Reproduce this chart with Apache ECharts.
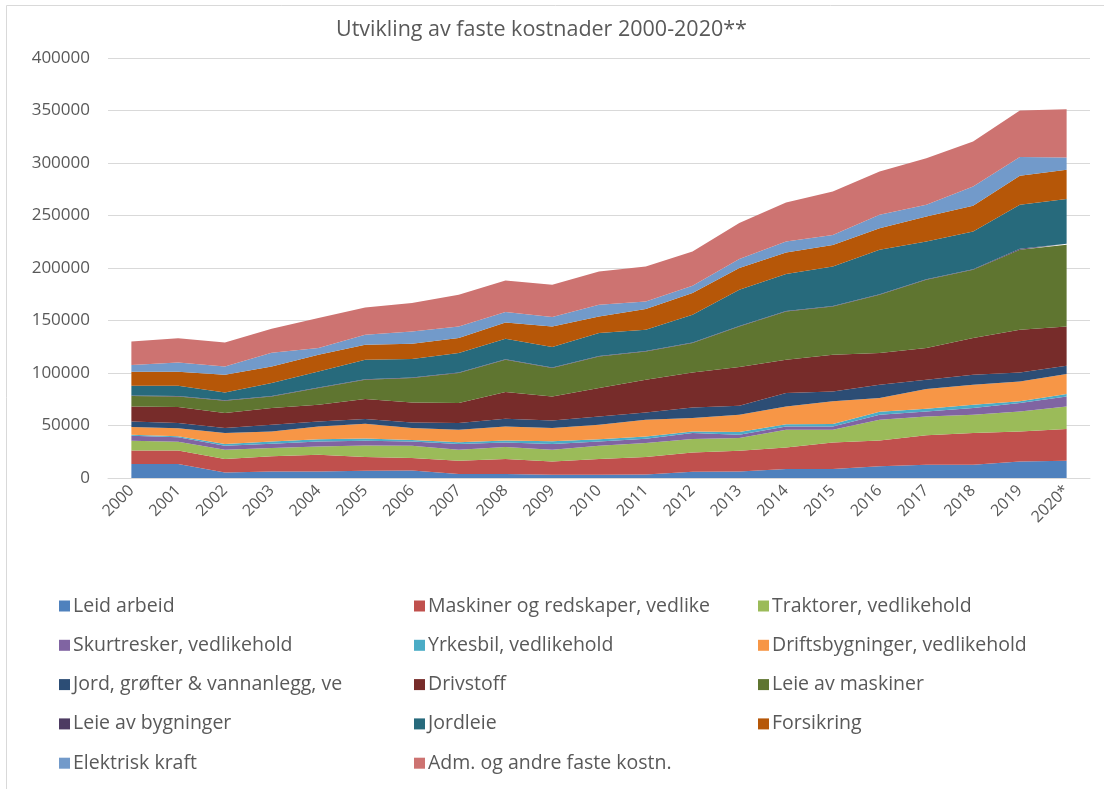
<!DOCTYPE html>
<html>
<head>
<meta charset="utf-8">
<script src="https://cdn.jsdelivr.net/npm/echarts@6/dist/echarts.min.js"></script>
<style>
html, body { margin: 0; padding: 0; background: #fff; }
#chart { width: 1104px; height: 789px; }
</style>
</head>
<body>
<div id="chart"></div>
<script>
// år (2020 er foreløpig)
const years = ['2000','2001','2002','2003','2004','2005','2006','2007','2008','2009','2010',
  '2011','2012','2013','2014','2015','2016','2017','2018','2019','2020*'];
const yTicks = [0, 50000, 100000, 150000, 200000, 250000, 300000, 350000, 400000];

// kostnader per post, lest av figuren
const leidArbeid = [13300,13300,5300,6300,6300,6900,7200,3800,3800,3200,3100,3400,6000,6300,8600,8600,11100,12700,12700,15800,16500];
const maskiner = [13000,13000,12800,14300,15900,13100,11800,12700,14300,12600,15000,16600,18400,19700,20500,25300,24700,27900,30100,28600,30100];
const traktorer = [9200,8300,8900,8000,7900,11000,11700,10500,11400,11200,12600,13300,12700,12100,16900,12100,19700,18000,17500,19000,21600];
const skurtresker = [4800,4100,3800,4100,4700,4500,4100,5400,4400,5400,4100,4100,5700,3100,3100,3100,4800,4800,6300,8000,9500];
const yrkesbil = [1000,1000,1600,2100,2000,2200,1500,1600,1900,2600,2200,2100,1600,2500,2200,2400,2700,2600,3100,1600,2300];
const driftsbygn = [7200,7600,10400,9600,12300,14000,11300,12000,13300,12600,13800,16000,12700,16600,16900,21500,13100,18700,19100,19000,19000];
const jordGrofter = [5400,5100,4800,6400,4800,4500,5300,6400,7400,7200,7800,7000,10100,8500,12700,9500,12700,8900,9500,8500,7900];
const drivstoff = [14300,15200,14300,15800,15900,19000,19100,19000,25400,22900,27100,31100,33300,36900,31700,34900,30200,30200,35000,40700,37400];
const leieMaskiner = [9800,10100,11700,11100,15900,18400,23200,28600,30700,27000,30100,26900,28000,38600,46000,45900,55500,65000,65000,76100,77800];
const leieBygninger = [500,500,500,500,500,500,500,500,500,500,500,500,500,500,500,500,500,500,500,1000,1000];
const jordleie = [9400,9700,7400,12200,15300,18500,17600,18500,19500,19500,21700,20200,26400,34500,35100,37600,42300,35900,35900,41900,42500];
const forsikring = [13300,13300,16800,15800,15900,14300,14500,14300,15500,19600,15800,19700,20700,20700,20600,20600,20600,23800,24500,27600,27900];
const elKraft = [6400,8900,7900,13000,6400,9500,11800,11000,9900,9000,11200,7200,7000,8500,10400,9500,12700,11200,18500,17800,11700];
const admAndre = [22400,22900,22900,23000,28500,26000,27000,30200,30100,30700,31700,33300,32600,34300,37200,41400,41300,44400,42800,44400,46100];

const names = ['Leid arbeid','Maskiner og redskaper, vedlike','Traktorer, vedlikehold','Skurtresker, vedlikehold',
  'Yrkesbil, vedlikehold','Driftsbygninger, vedlikehold','Jord, grøfter & vannanlegg, ve','Drivstoff',
  'Leie av maskiner','Leie av bygninger','Jordleie','Forsikring','Elektrisk kraft','Adm. og andre faste kostn.'];
const values = [leidArbeid, maskiner, traktorer, skurtresker, yrkesbil, driftsbygn, jordGrofter, drivstoff,
  leieMaskiner, leieBygninger, jordleie, forsikring, elKraft, admAndre];
const colors = ['#4F81BD','#C0504D','#9BBB59','#8064A2','#4BACC6','#F79646','#2C4D75','#772C2A',
  '#5F7530','#4D3B62','#276A7C','#B65708','#729ACA','#CD7371'];

const txt = '#595959';
const font = 'Open Sans';

let seriesData = [];
for (let i = 0; i < names.length; i++) {
  seriesData.push({
    name: names[i],
    type: 'line',
    stack: 'total',
    symbol: 'none',
    lineStyle: { width: 0 },
    areaStyle: { color: colors[i], opacity: 1 },
    itemStyle: { color: colors[i] },
    data: values[i]
  });
}

// legenden i tre kolonner
function legendCol(idx, left) {
  return {
    orient: 'vertical',
    left: left,
    top: 591,
    itemWidth: 11,
    itemHeight: 11,
    itemGap: 19.3,
    icon: 'rect',
    data: idx.map(i => names[i]),
    textStyle: { color: txt, fontSize: 19.5, fontFamily: font, padding: [0, 0, 0, -2] }
  };
}

let myChart = echarts.init(document.getElementById('chart'));
myChart.setOption({
  animation: false,
  color: colors,
  title: {
    text: 'Utvikling av faste kostnader 2000-2020**',
    left: 331,
    top: 14,
    textStyle: { color: txt, fontSize: 21.5, fontWeight: 'normal', fontFamily: font }
  },
  graphic: [{
    type: 'rect',
    shape: { x: 6.5, y: 5.5, width: 1120, height: 820 },
    style: { fill: 'none', stroke: '#d9d9d9', lineWidth: 1 }
  }],
  legend: [
    legendCol([0, 3, 6, 9, 12], 54),
    legendCol([1, 4, 7, 10, 13], 409),
    legendCol([2, 5, 8, 11], 753)
  ],
  grid: { left: 108, right: 14, top: 58, bottom: 311 },
  xAxis: {
    type: 'category',
    boundaryGap: true,
    data: years,
    axisLine: { lineStyle: { color: '#d9d9d9' } },
    axisTick: { show: false },
    axisLabel: { rotate: 45, color: txt, fontSize: 16, fontFamily: font, margin: 10, interval: 0 }
  },
  yAxis: {
    type: 'value',
    min: yTicks[0],
    max: yTicks[yTicks.length - 1],
    interval: 50000,
    axisLine: { show: false },
    axisTick: { show: false },
    axisLabel: { color: txt, fontSize: 17, fontFamily: font, margin: 18, formatter: v => String(v) },
    splitLine: { lineStyle: { color: '#d9d9d9' } }
  },
  series: seriesData
});
</script>
</body>
</html>
